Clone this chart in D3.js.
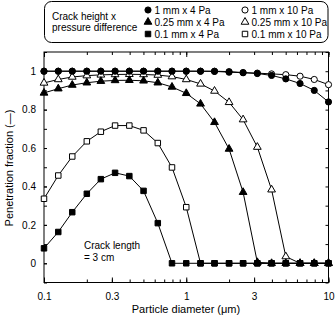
<!DOCTYPE html>
<html>
<head>
<meta charset="utf-8">
<script src="https://cdn.jsdelivr.net/npm/d3@7"></script>
<style>
body{margin:0;background:#fff;}
text{font-family:"Liberation Sans",Arial,sans-serif;fill:#000;}
</style>
</head>
<body>
<div id="chart"></div>
<script>
// particle diameters, 10 per decade from 0.1 to 10 um
var diam = [0.1,0.126,0.158,0.2,0.251,0.316,0.398,0.501,0.631,0.794,1,1.26,1.58,2,2.51,3.16,3.98,5.01,6.31,7.94,10];

var mm1_4 = [1,1,1,1,1,1,1,1,1,1,1,1,0.999,0.995,0.992,0.988,0.978,0.96,0.936,0.9,0.84];
var mm1_10 = [1,1,1,1,1,1,1,1,1,1,1,1,1,0.998,0.993,0.99,0.986,0.982,0.974,0.957,0.93];
var mm025_4 = [0.887,0.909,0.928,0.94,0.948,0.952,0.953,0.95,0.94,0.918,0.885,0.83,0.734,0.595,0.37,0.005,0,0,0,0,0];
var mm025_10 = [0.939,0.957,0.97,0.977,0.981,0.983,0.984,0.983,0.98,0.972,0.957,0.934,0.897,0.838,0.748,0.605,0.383,0.035,0,0,0];
var mm01_4 = [0.078,0.163,0.266,0.362,0.438,0.471,0.454,0.377,0.209,0,0,0,0,0,0,0,0,0,0,0,0];
var mm01_10 = [0.336,0.457,0.556,0.635,0.685,0.717,0.717,0.692,0.626,0.499,0.292,0,0,0,0,0,0,0,0,0,0];

var seriesNames = ["1 mm x 4 Pa","0.25 mm x 4 Pa","0.1 mm x 4 Pa","1 mm x 10 Pa","0.25 mm x 10 Pa","0.1 mm x 10 Pa"];
var seriesVals = [mm1_4,mm025_4,mm01_4,mm1_10,mm025_10,mm01_10];
var seriesShape = ["circle","triangle","square","circle","triangle","square"];
var seriesFilled = [true,true,true,false,false,false];

var xTicks = [0.1,0.3,1,3,10];
var yTicks = [0,0.2,0.4,0.6,0.8,1];

var w = 336, h = 317;
var svg = d3.select("#chart").append("svg").attr("width",w).attr("height",h);

var x = d3.scaleLog().domain([0.1,10]).range([44,328.5]);
var y = d3.scaleLinear().domain([-0.1,1.1]).range([282.5,52]);

// minor ticks
var xMinor = [];
[0.1,1].forEach(function(d){ for(var i=1;i<10;i++) xMinor.push(d*i); });
xMinor.push(10);
var yMinor = d3.range(-0.1,1.11,0.1);

svg.append("g").attr("transform","translate(0,282.5)")
  .call(d3.axisBottom(x).tickValues(xMinor).tickSize(-3).tickFormat(""));
svg.append("g").attr("transform","translate(0,282.5)")
  .call(d3.axisBottom(x).tickValues(xTicks).tickSize(-5).tickPadding(10).tickFormat(d3.format("")));
svg.append("g").attr("transform","translate(0,52)")
  .call(d3.axisTop(x).tickValues(xMinor).tickSize(-3).tickFormat(""));
svg.append("g").attr("transform","translate(0,52)")
  .call(d3.axisTop(x).tickValues([0.1,1,10]).tickSize(-5).tickFormat(""));
svg.append("g").attr("transform","translate(44,0)")
  .call(d3.axisLeft(y).tickValues(yMinor).tickSize(-3).tickFormat(""));
svg.append("g").attr("transform","translate(44,0)")
  .call(d3.axisLeft(y).tickValues(yTicks).tickSize(-3).tickPadding(8).tickFormat(d3.format("")));
svg.append("g").attr("transform","translate(328.5,0)")
  .call(d3.axisRight(y).tickValues(yMinor).tickSize(-3).tickFormat(""));

svg.selectAll(".domain").remove();
svg.selectAll(".tick line").attr("stroke","#000");
svg.selectAll(".tick text").attr("font-size","10px").attr("fill","#000").style("font-family","'Liberation Sans',Arial,sans-serif");

svg.append("rect").attr("x",44).attr("y",52).attr("width",284.5).attr("height",230.5)
  .attr("fill","none").attr("stroke","#000").attr("stroke-width",1);

var line = d3.line().x(function(d){return x(d[0]);}).y(function(d){return y(d[1]);});

function marker(g,shape,filled,cx,cy){
  var s;
  if(shape==="circle") s = d3.symbol().type(d3.symbolCircle).size(30);
  else if(shape==="triangle") s = d3.symbol().type(d3.symbolTriangle).size(26);
  else s = d3.symbol().type(d3.symbolSquare).size(30);
  g.append("path").attr("d",s())
    .attr("transform","translate("+cx+","+cy+")")
    .attr("fill",filled?"#000":"#fff")
    .attr("stroke","#000").attr("stroke-width",1);
}

// open series first, filled on top
var order = [3,4,5,0,1,2];
order.forEach(function(si){
  var pts = diam.map(function(d,i){return [d,seriesVals[si][i]];});
  var g = svg.append("g");
  g.append("path").attr("d",line(pts)).attr("fill","none").attr("stroke","#000").attr("stroke-width",1);
  pts.forEach(function(p){ marker(g,seriesShape[si],seriesFilled[si],x(p[0]),y(p[1])); });
});

// axis titles
svg.append("text").attr("x",186).attr("y",313).attr("text-anchor","middle").attr("font-size","11px")
  .text("Particle diameter (\u03bcm)");
svg.append("text").attr("transform","translate(13,168) rotate(-90)").attr("text-anchor","middle").attr("font-size","11px")
  .text("Penetration fraction (\u2014)");

svg.append("text").attr("x",84).attr("y",249).attr("font-size","10px").text("Crack length");
svg.append("text").attr("x",84).attr("y",261).attr("font-size","10px").text("= 3 cm");

// legend
var lg = svg.append("g");
lg.append("rect").attr("x",44.5).attr("y",1.5).attr("width",283.5).attr("height",41).attr("rx",7)
  .attr("fill","#fff").attr("stroke","#000");
lg.append("text").attr("x",52).attr("y",20).attr("font-size","10px").text("Crack height x");
lg.append("text").attr("x",52).attr("y",31).attr("font-size","10px").text("pressure  difference");
var rowY = [10,22,34];
seriesNames.forEach(function(n,i){
  var col = Math.floor(i/3), row = i%3;
  var mx = col===0 ? 148 : 245;
  marker(lg,seriesShape[i],seriesFilled[i],mx,rowY[row]);
  lg.append("text").attr("x",mx+6.5).attr("y",rowY[row]+3.5).attr("font-size","10px").text(n);
});
</script>
</body>
</html>
